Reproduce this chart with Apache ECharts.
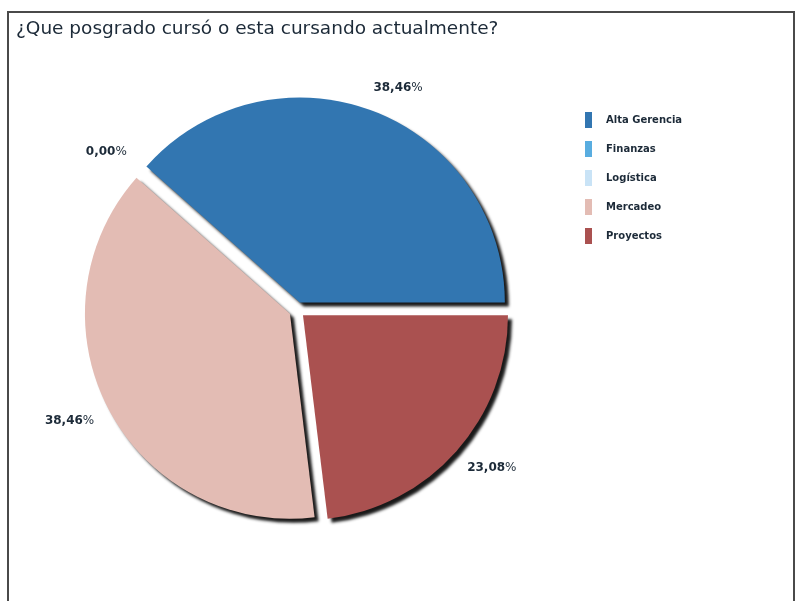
<!DOCTYPE html>
<html>
<head>
<meta charset="utf-8">
<script src="https://cdn.jsdelivr.net/npm/echarts@6/dist/echarts.min.js"></script>
<style>
  html, body { margin: 0; padding: 0; background: #ffffff; }
  #frame {
    position: absolute; left: 7px; top: 11px; width: 784px; height: 600px;
    border-top: 2px solid #4a4a4a; border-left: 2px solid #4a4a4a; border-right: 2px solid #4a4a4a;
  }
  #chart { position: absolute; left: 0; top: 0; width: 795px; height: 601px; }
</style>
</head>
<body>
<div id="frame"></div>
<div id="chart"></div>
<script>
// Survey answers: share of respondents per postgraduate programme (%)
const categories = ['Alta Gerencia', 'Finanzas', 'Logística', 'Mercadeo', 'Proyectos'];
const shares = [38.46, 0, 0, 38.46, 23.08];
const colors = ['#3276b1', '#59ade0', '#c9e3f6', '#e3bcb4', '#aa5150'];
const titleText = '¿Que posgrado cursó o esta cursando actualmente?';

const FONT = 'DejaVu Sans, Verdana, sans-serif';
const TEXT_DARK = '#1c2a38';

const pieCenter = [297, 310];
const pieRadius = 205;

function fmtPercent(v) {
  return '{n|' + v.toFixed(2).replace('.', ',') + '}{p|%}';
}

const sliceData = categories.map((name, i) => ({
  name: name,
  value: shares[i],
  selected: true,
  itemStyle: { color: colors[i] }
}));

const chart = echarts.init(document.getElementById('chart'), null, { renderer: 'canvas' });

chart.setOption({
  animation: false,
  title: {
    text: titleText,
    left: 11,
    top: 15,
    textStyle: { fontFamily: FONT, fontSize: 18.5, fontWeight: 'normal', color: TEXT_DARK }
  },
  legend: {
    orient: 'vertical',
    left: 580,
    top: 107,
    data: categories,
    selectedMode: false,
    icon: 'rect',
    itemWidth: 7,
    itemHeight: 16,
    itemGap: 13,
    textStyle: {
      fontFamily: FONT, fontSize: 10, fontWeight: 'bold', color: TEXT_DARK,
      padding: [0, 0, 0, 9]
    }
  },
  series: [
    {
      // each slice pulled out from the centre, with a hard drop shadow
      type: 'pie',
      center: pieCenter,
      radius: pieRadius,
      startAngle: 0,
      clockwise: false,
      selectedMode: 'multiple',
      selectedOffset: 8,
      avoidLabelOverlap: false,
      silent: true,
      itemStyle: {
        borderWidth: 0,
        shadowColor: 'rgba(0,0,0,0.9)',
        shadowBlur: 3,
        shadowOffsetX: 4,
        shadowOffsetY: 4
      },
      emphasis: { disabled: true },
      labelLine: { show: false, length: 25, length2: 0 },
      label: {
        show: true,
        position: 'outside',
        distanceToLabelLine: -8,
        formatter: p => fmtPercent(p.value),
        rich: {
          n: { fontFamily: FONT, fontSize: 12, fontWeight: 'bold', color: TEXT_DARK },
          p: { fontFamily: FONT, fontSize: 12, fontWeight: 'normal', color: TEXT_DARK }
        }
      },
      data: sliceData
    }
  ]
});
</script>
</body>
</html>
